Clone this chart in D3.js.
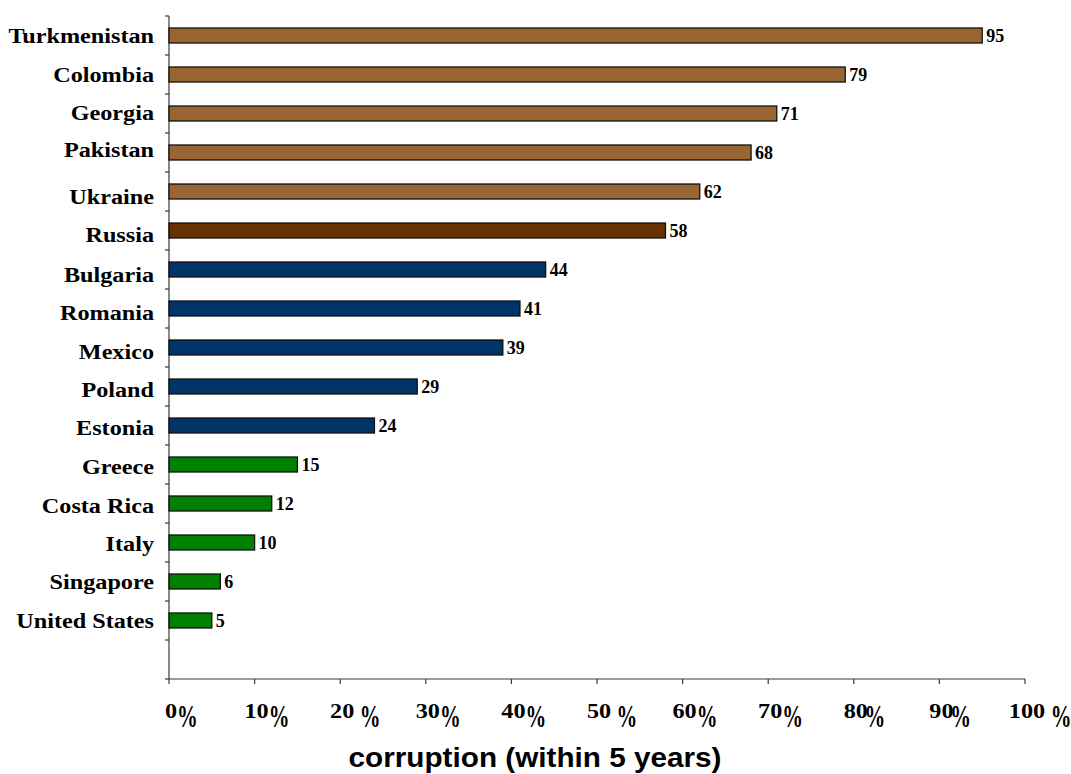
<!DOCTYPE html>
<html>
<head>
<meta charset="utf-8">
<script src="https://cdn.jsdelivr.net/npm/d3@7"></script>
<style>
  html, body { margin: 0; padding: 0; background: #fff; }
  svg { display: block; }
</style>
</head>
<body>
<svg id="chart" width="1071" height="774"></svg>
<script>
// Share of firms expecting corruption within 5 years, by country
const countries = [
  "Turkmenistan", "Colombia", "Georgia", "Pakistan", "Ukraine", "Russia",
  "Bulgaria", "Romania", "Mexico", "Poland", "Estonia",
  "Greece", "Costa Rica", "Italy", "Singapore", "United States"
];
const values = [95, 79, 71, 68, 62, 58, 44, 41, 39, 29, 24, 15, 12, 10, 6, 5];
const groups = [
  "high", "high", "high", "high", "high", "russia",
  "mid", "mid", "mid", "mid", "mid",
  "low", "low", "low", "low", "low"
];
const groupColors = { high: "#996633", russia: "#663300", mid: "#003366", low: "#008000" };
const tickValues = [0, 10, 20, 30, 40, 50, 60, 70, 80, 90, 100];
const tickLabels = ["0%", "10%", "20 %", "30%", "40%", "50 %", "60%", "70%", "80%", "90%", "100 %"];
const axisTitle = "corruption (within 5 years)";

const svg = d3.select("#chart");
const plot = { left: 169, right: 1025, top: 16, bottom: 679 };

const x = d3.scaleLinear().domain([0, 100]).range([plot.left, plot.right]);
// one extra empty slot at the bottom of the category axis
const slots = countries.concat([""]);
const y = d3.scaleBand().domain(slots).range([plot.top, plot.bottom])
  .paddingInner(0.59).paddingOuter(0.295);
const step = y.step();

const serif = "'Liberation Serif', 'Times New Roman', serif";
const sans = "'Liberation Sans', Arial, sans-serif";
const axisColor = "#3a3a3a";

// axes
const g = svg.append("g");
g.append("line")
  .attr("x1", plot.left).attr("x2", plot.left)
  .attr("y1", plot.top).attr("y2", plot.bottom)
  .attr("stroke", axisColor).attr("stroke-width", 1.2);
g.append("line")
  .attr("x1", plot.left).attr("x2", plot.right)
  .attr("y1", plot.bottom).attr("y2", plot.bottom)
  .attr("stroke", axisColor).attr("stroke-width", 1.2);

// category separators on the left of the y axis
g.selectAll(".ytick").data(d3.range(slots.length + 1)).join("line")
  .attr("class", "ytick")
  .attr("x1", plot.left - 4).attr("x2", plot.left)
  .attr("y1", i => plot.top + i * step).attr("y2", i => plot.top + i * step)
  .attr("stroke", axisColor).attr("stroke-width", 1.2);

// value ticks below the x axis
g.selectAll(".xtick").data(tickValues).join("line")
  .attr("class", "xtick")
  .attr("x1", d => x(d)).attr("x2", d => x(d))
  .attr("y1", plot.bottom).attr("y2", plot.bottom + 5)
  .attr("stroke", axisColor).attr("stroke-width", 1.2);

const data = countries.map((c, i) => ({ c, v: values[i], grp: groups[i] }));
const barH = 15;

// bars
svg.append("g").selectAll("rect").data(data).join("rect")
  .attr("x", x(0))
  .attr("y", d => y(d.c) + y.bandwidth() / 2 - barH / 2)
  .attr("width", d => x(d.v) - x(0))
  .attr("height", barH)
  .attr("fill", d => groupColors[d.grp])
  .attr("stroke", "#111")
  .attr("stroke-width", 1.3);

// value labels
svg.append("g").selectAll("text").data(data).join("text")
  .attr("x", d => x(d.v) + 4)
  .attr("y", d => y(d.c) + y.bandwidth() / 2 + 6.5)
  .attr("font-family", serif).attr("font-weight", "bold")
  .attr("font-size", 18).attr("fill", "#000")
  .text(d => d.v);

// country labels (hand-placed text boxes sit a little off the band centres)
const labelDrift = [0, -0.5, -1.5, -3, 5, 3.5, 4.5, 4, 4, 3, 2, 2, 2, 0.5, 0, 0];
svg.append("g").selectAll("text").data(data).join("text")
  .attr("transform", (d, i) =>
    `translate(${plot.left - 15},${y(d.c) + y.bandwidth() / 2 + 7.5 + labelDrift[i]}) scale(1.1,1)`)
  .attr("text-anchor", "end")
  .attr("font-family", serif).attr("font-weight", "bold")
  .attr("font-size", 22).attr("fill", "#000")
  .text(d => d.c);

// x tick labels: number followed by a tall, dropped percent sign
const pctShift = { 80: -3, 90: -3 };
const tl = svg.append("g");
tickValues.forEach((v, i) => {
  const label = tickLabels[i];
  const num = label.replace(/\s*%$/, "");
  const spaced = /\s%$/.test(label);
  const lg = tl.append("g").attr("transform", `translate(${x(v) + 2},718) scale(1.1,1)`);
  const t = lg.append("text")
    .attr("text-anchor", "middle")
    .attr("font-family", serif).attr("font-weight", "bold")
    .attr("font-size", 22).attr("fill", "#000")
    .text(num);
  const w = t.node().getComputedTextLength();
  const px = w / 2 + (spaced ? 5 : 0) + (pctShift[v] || 0);
  lg.append("text")
    .attr("transform", `translate(${px},9) scale(0.82,1.4)`)
    .attr("font-family", serif).attr("font-weight", "bold")
    .attr("font-size", 23).attr("fill", "#000")
    .text("%");
});

// axis title
svg.append("text")
  .attr("transform", "translate(535,767) scale(1.1,1)")
  .attr("text-anchor", "middle")
  .attr("font-family", sans).attr("font-weight", "bold")
  .attr("font-size", 27).attr("fill", "#000")
  .text(axisTitle);
</script>
</body>
</html>
